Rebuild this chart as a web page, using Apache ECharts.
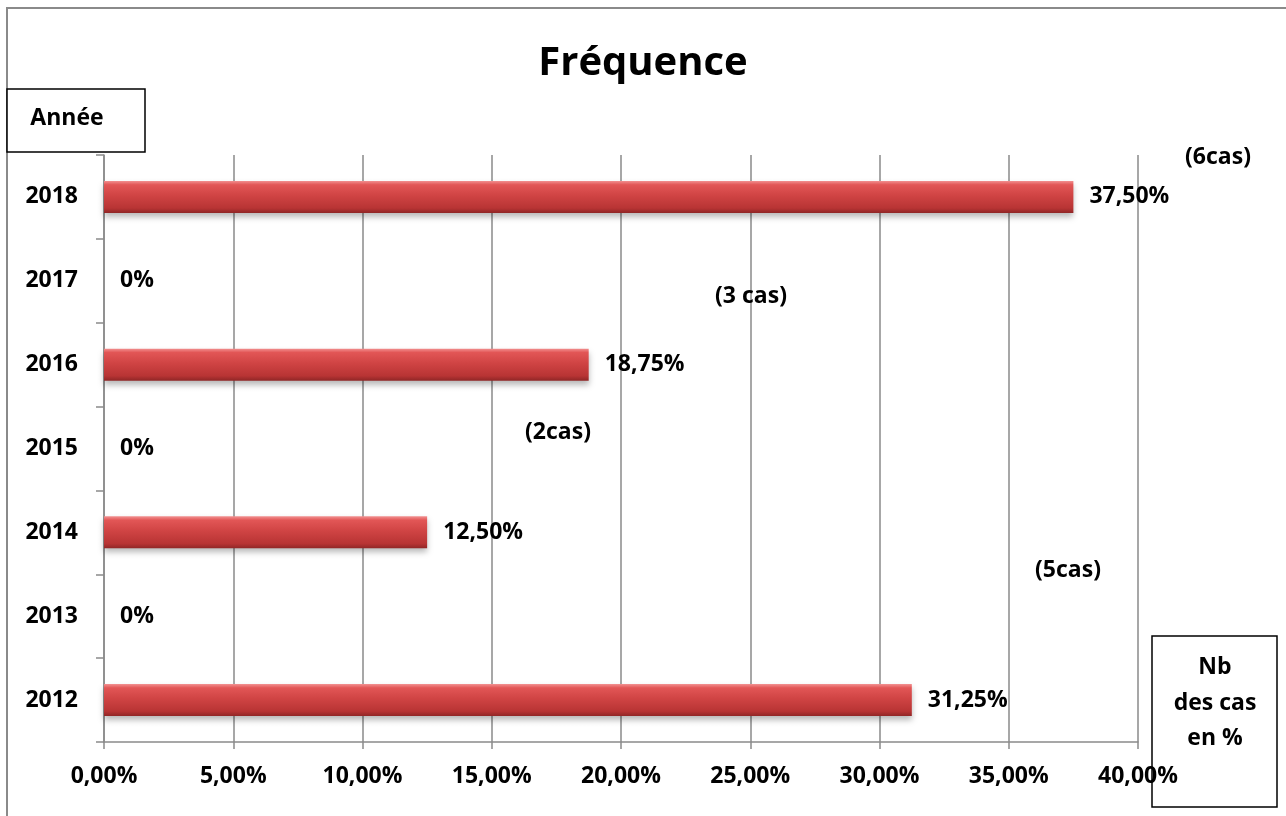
<!DOCTYPE html>
<html>
<head>
<meta charset="utf-8">
<script src="https://cdn.jsdelivr.net/npm/echarts@6/dist/echarts.min.js"></script>
<style>
  html, body { margin: 0; padding: 0; background: #fff; }
  #chart { width: 1286px; height: 816px; }
</style>
</head>
<body>
<div id="chart"></div>
<script>
// Years on the vertical axis, bottom to top
const years = ['2012', '2013', '2014', '2015', '2016', '2017', '2018'];
// Share of cases per year, in percent
const frequency = [31.25, 0, 12.5, 0, 18.75, 0, 37.5];
// Case counts written beside the bars
const caseNotes = ['(6cas)', '(3 cas)', '(2cas)', '(5cas)'];
// Horizontal scale
const xMin = 0, xMax = 40, xStep = 5;

const FONT = '"Open Sans", "DejaVu Sans", sans-serif';
const GRAY = '#8a8a8a';
const FS = 23;

function pct(v, zeroShort) {
  if (zeroShort && v === 0) return '0%';
  return v.toFixed(2).replace('.', ',') + '%';
}

const chart = echarts.init(document.getElementById('chart'));

const noteStyle = { font: 'bold ' + FS + 'px ' + FONT, fill: '#000', textAlign: 'center', textVerticalAlign: 'middle' };

chart.setOption({
  animation: false,
  backgroundColor: '#fff',
  title: {
    text: 'Fréquence',
    left: 'center',
    top: 39,
    textStyle: { fontFamily: FONT, fontWeight: 'bold', fontSize: 40, color: '#000' }
  },
  grid: { left: 104, right: 148, top: 155, bottom: 74 },
  xAxis: {
    type: 'value',
    min: xMin, max: xMax, interval: xStep,
    axisLine: { show: true, lineStyle: { color: GRAY, width: 1.5 } },
    axisTick: { show: true, length: 7, lineStyle: { color: GRAY, width: 1.5 } },
    splitLine: { show: true, lineStyle: { color: GRAY, width: 1.5 } },
    axisLabel: {
      margin: 23,
      fontFamily: FONT, fontWeight: 'bold', fontSize: FS, color: '#000',
      formatter: v => pct(v, false)
    }
  },
  yAxis: {
    type: 'category',
    data: years,
    axisLine: { show: true, lineStyle: { color: GRAY, width: 1.5 } },
    axisTick: { show: true, length: 8, inside: false, lineStyle: { color: GRAY, width: 1.5 } },
    axisLabel: {
      margin: 26,
      fontFamily: FONT, fontWeight: 'bold', fontSize: FS, color: '#000'
    }
  },
  series: [{
    type: 'bar',
    data: frequency,
    barWidth: 32,
    itemStyle: {
      color: new echarts.graphic.LinearGradient(0, 0, 0, 1, [
        { offset: 0, color: '#f29090' },
        { offset: 0.12, color: '#e25656' },
        { offset: 0.45, color: '#d04444' },
        { offset: 0.85, color: '#b83434' },
        { offset: 1, color: '#902626' }
      ]),
      borderWidth: 0,
      shadowColor: 'rgba(0,0,0,0.28)',
      shadowBlur: 6,
      shadowOffsetY: 4
    },
    label: {
      show: true,
      position: 'right',
      distance: 16,
      fontFamily: FONT, fontWeight: 'bold', fontSize: FS, color: '#000',
      formatter: p => pct(p.value, true)
    }
  }],
  graphic: [
    // outer frame
    { type: 'rect', shape: { x: 7, y: 8, width: 1290, height: 820 },
      style: { fill: 'none', stroke: GRAY, lineWidth: 2 }, silent: true },
    // "Année" box
    { type: 'rect', shape: { x: 7, y: 89, width: 138, height: 63 },
      style: { fill: '#fff', stroke: '#000', lineWidth: 1.5 }, z: 10 },
    { type: 'text', x: 67, y: 118, style: Object.assign({ text: 'Année' }, noteStyle), z: 11 },
    // "Nb des cas en %" box
    { type: 'rect', shape: { x: 1152, y: 636, width: 125, height: 171 },
      style: { fill: 'none', stroke: '#000', lineWidth: 1.5 }, z: 10 },
    { type: 'text', x: 1215, y: 667, style: Object.assign({ text: 'Nb' }, noteStyle), z: 11 },
    { type: 'text', x: 1215, y: 703, style: Object.assign({ text: 'des cas' }, noteStyle), z: 11 },
    { type: 'text', x: 1215, y: 738, style: Object.assign({ text: 'en %' }, noteStyle), z: 11 },
    // case counts
    { type: 'text', x: 1218, y: 157, style: Object.assign({ text: caseNotes[0] }, noteStyle), z: 11 },
    { type: 'text', x: 751, y: 296, style: Object.assign({ text: caseNotes[1] }, noteStyle), z: 11 },
    { type: 'text', x: 558, y: 432, style: Object.assign({ text: caseNotes[2] }, noteStyle), z: 11 },
    { type: 'text', x: 1068, y: 570, style: Object.assign({ text: caseNotes[3] }, noteStyle), z: 11 }
  ]
});
</script>
</body>
</html>
